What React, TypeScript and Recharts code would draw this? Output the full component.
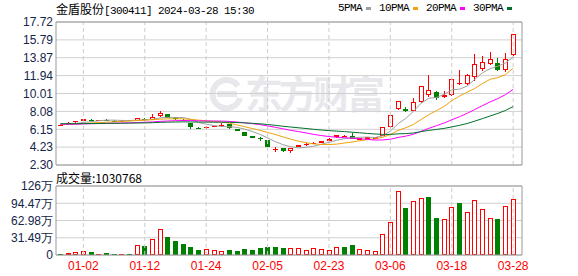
import React from 'react';
import { ComposedChart, Bar, Line, XAxis, YAxis, CartesianGrid, ReferenceLine } from 'recharts';

const stockName = '金盾股份';
const stockCode = '300411';
const quoteTime = '2024-03-28 15:30';

const dates = [
  '12-27', '12-28', '12-29', '01-02', '01-03', '01-04', '01-05', '01-08', '01-09', '01-10',
  '01-11', '01-12', '01-15', '01-16', '01-17', '01-18', '01-19', '01-22', '01-23', '01-24',
  '01-25', '01-26', '01-29', '01-30', '01-31', '02-01', '02-02', '02-05', '02-06', '02-07',
  '02-08', '02-19', '02-20', '02-21', '02-22', '02-23', '02-26', '02-27', '02-28', '02-29',
  '03-01', '03-04', '03-05', '03-06', '03-07', '03-08', '03-11', '03-12', '03-13', '03-14',
  '03-15', '03-18', '03-19', '03-20', '03-21', '03-22', '03-25', '03-26', '03-27', '03-28',
];

const opens = [
  6.58, 6.74, 7.02, 7.08, 7.2, 7.05, 7.18, 7.08, 7.05, 7.12,
  7.05, 7.3, 7.15, 7.55, 7.75, 7.35, 7.2, 6.8, 6.32, 6.25,
  6.48, 6.57, 6.7, 6.18, 5.86, 5.45, 5.2, 5.0, 4.0, 4.12,
  3.8, 4.28, 4.42, 4.62, 4.7, 4.94, 5.29, 5.42, 5.43, 4.98,
  5.1, 5.12, 5.46, 6.43, 8.37, 8.3, 8.16, 9.06, 9.88, 10.17,
  9.67, 9.82, 11.1, 11.07, 11.76, 12.66, 13.23, 13.27, 12.58, 14.14,
];
const highs = [
  6.66, 6.94, 7.06, 7.28, 7.28, 7.17, 7.3, 7.1, 7.12, 7.16,
  7.42, 7.38, 7.8, 8.12, 7.8, 7.45, 7.25, 6.85, 6.38, 6.48,
  6.54, 6.8, 6.72, 6.22, 5.9, 5.48, 5.32, 5.02, 4.27, 4.15,
  4.12, 4.48, 4.63, 4.75, 4.9, 5.18, 5.58, 5.56, 5.72, 5.18,
  5.3, 5.31, 6.4, 7.7, 9.2, 8.52, 9.5, 10.85, 12.01, 10.28,
  10.28, 11.58, 12.55, 12.12, 14.27, 14.09, 14.46, 13.81, 14.35, 16.44,
];
const lows = [
  6.56, 6.58, 6.86, 7.06, 7.08, 7.02, 7.05, 7.03, 7.03, 7.02,
  7.02, 7.0, 7.12, 7.52, 7.33, 7.1, 7.05, 6.18, 6.2, 6.2,
  6.46, 6.4, 6.2, 5.95, 5.4, 5.2, 4.92, 4.2, 3.7, 3.75,
  3.63, 4.25, 4.38, 4.55, 4.66, 4.9, 5.25, 5.32, 5.1, 4.95,
  5.08, 5.1, 5.4, 6.29, 8.27, 7.98, 8.1, 9.0, 9.6, 9.28,
  9.56, 9.78, 10.9, 10.93, 11.36, 12.47, 13.12, 12.44, 12.36, 14.1,
];
const closes = [
  6.62, 6.78, 7.05, 7.26, 7.12, 7.15, 7.1, 7.06, 7.09, 7.07,
  7.36, 7.12, 7.48, 7.9, 7.38, 7.22, 7.12, 6.45, 6.28, 6.42,
  6.52, 6.62, 6.25, 6.02, 5.43, 5.24, 5.12, 4.28, 4.05, 3.8,
  4.1, 4.45, 4.6, 4.68, 4.86, 5.14, 5.54, 5.46, 5.14, 5.16,
  5.27, 5.29, 6.37, 7.66, 9.17, 8.08, 9.1, 10.79, 10.36, 9.53,
  9.8, 11.54, 11.16, 12.01, 13.16, 13.38, 13.7, 12.55, 13.7, 16.44,
];
// 成交量, in 万
const volumes = [
  1.8, 3.1, 4.9, 8.2, 4.9, 2.5, 3.1, 1.2, 2.5, 1.2,
  17.8, 16.0, 28.6, 47.0, 32.9, 25.5, 19.6, 14.2, 8.9, 10.4,
  8.3, 6.4, 9.0, 7.1, 10.4, 9.0, 12.5, 14.5, 14.0, 12.9,
  12.3, 12.3, 8.6, 12.3, 10.4, 8.6, 14.1, 14.8, 18.4, 10.4,
  8.6, 6.8, 38.7, 60.8, 117.4, 86.7, 97.7, 104.5, 105.1, 68.2,
  65.8, 88.5, 94.1, 78.7, 100.8, 84.2, 67.6, 66.4, 89.1, 103.0768,
];
// closes before 12-27, only there so the moving averages start warm
const earlierCloses = [
  6.92, 6.88, 6.95, 6.9, 6.86, 6.84, 6.9, 6.87, 6.82, 6.8,
  6.85, 6.78, 6.74, 6.76, 6.72, 6.7, 6.74, 6.68, 6.66, 6.7,
  6.64, 6.62, 6.66, 6.6, 6.63, 6.68, 6.65, 6.7, 6.72,
];

const priceTicks = [2.3, 4.23, 6.15, 8.08, 10.01, 11.94, 13.87, 15.79, 17.72];
const volumeTicks = [0, 31.49, 62.98, 94.47, 125.96];
const labelDates = ['01-02', '01-12', '01-24', '02-05', '02-23', '03-06', '03-18', '03-28'];
const maPeriods = [5, 10, 20, 30];

const RED = '#ff0000';
const GREEN = '#008000';
const maColors = ['#a0a0a0', '#f0a30a', '#ff00ff', '#00702e'];
const CJK = '"Noto Sans CJK SC", sans-serif';
const MONO = '"Liberation Mono", monospace';
const axisText = { fontSize: 12, fill: '#14254a', fontFamily: '"Liberation Sans", Arial, sans-serif' };

const history = [...earlierCloses, ...closes];
const movingAverage = (n: number, i: number) => {
  const end = earlierCloses.length + i;
  let sum = 0;
  for (let k = end - n + 1; k <= end; k++) sum += history[k];
  return sum / n;
};

const rows = dates.map((date, i) => {
  const prev = i > 0 ? closes[i - 1] : earlierCloses[earlierCloses.length - 1];
  const row: any = {
    date,
    open: opens[i],
    high: highs[i],
    low: lows[i],
    close: closes[i],
    range: [lows[i], highs[i]],
    vol: volumes[i],
    volUp: closes[i] >= prev,
  };
  maPeriods.forEach((n) => {
    row['ma' + n] = movingAverage(n, i);
  });
  return row;
});

const Candle = (props: any) => {
  const { x, y, width, height, payload } = props;
  if (!payload) return null;
  const { open, close, high, low } = payload;
  const span = high - low;
  const toY = (v: number) => (span > 0 ? y + ((high - v) / span) * height : y);
  const px = Math.round(x + width / 2);
  const up = close >= open;
  const color = up ? RED : GREEN;
  const top = Math.round(toY(Math.max(open, close)));
  const bottom = Math.round(toY(Math.min(open, close)));
  const bodyH = bottom - top;
  return (
    <g>
      <line x1={px + 0.5} x2={px + 0.5} y1={Math.round(y)} y2={Math.round(y + height)} stroke={color} />
      {up && bodyH >= 3 ? (
        <rect x={px - 1.5} y={top + 0.5} width={4} height={bodyH - 1} fill="#fff" stroke={color} />
      ) : (
        <rect x={px - 2} y={top} width={5} height={Math.max(bodyH, 1)} fill={color} />
      )}
    </g>
  );
};

const VolumeBar = (props: any) => {
  const { x, y, width, height, payload } = props;
  if (!payload) return null;
  const px = Math.round(x + width / 2);
  const top = Math.round(y);
  const h = Math.round(y + height) - top;
  if (payload.volUp && h >= 3) {
    return <rect x={px - 1.5} y={top + 0.5} width={4} height={h - 1} fill="#fff" stroke={RED} />;
  }
  return <rect x={px - 2} y={top} width={5} height={Math.max(h, 1)} fill={payload.volUp ? RED : GREEN} />;
};

const renderDateTick = (props: any) => {
  const { x, y, payload } = props;
  if (!labelDates.includes(payload.value)) return <g />;
  return (
    <text x={x} y={y + 15} textAnchor="middle" fontSize={12} fill={RED} fontFamily={axisText.fontFamily}>
      {payload.value}
    </text>
  );
};

const formatVolume = (v: number) => (v === 0 ? '0' : v >= 100 ? Math.round(v) + '万' : v.toFixed(2) + '万');

export default function App() {
  const last = volumes[volumes.length - 1];
  return (
    <div style={{ position: 'absolute', left: 0, top: 0, width: 578, height: 276, background: '#fff', overflow: 'hidden' }}>
      {/* watermark */}
      <svg style={{ position: 'absolute', left: 208, top: 76 }} width={36} height={36}>
        <path d="M30 10 A14 14 0 1 0 32 22" fill="none" stroke="#e8e8ec" strokeWidth={6} />
        <rect x={9} y={15} width={20} height={6} fill="#e8e8ec" />
      </svg>
      <div
        style={{
          position: 'absolute', left: 245, top: 73, fontSize: 38, lineHeight: '38px', fontWeight: 700,
          letterSpacing: -4, color: '#e8e8ec', fontFamily: CJK, whiteSpace: 'nowrap',
        }}
      >
        东方财富
      </div>

      <div style={{ position: 'absolute', left: 56, top: 2, fontSize: 12, lineHeight: '13px', whiteSpace: 'nowrap', color: '#000' }}>
        <span style={{ fontFamily: CJK }}>{stockName}</span>
        <span style={{ fontFamily: MONO, fontSize: 11, letterSpacing: -0.6 }}>[{stockCode}] {quoteTime}</span>
      </div>

      <div style={{ position: 'absolute', left: 338, top: 2, display: 'flex', alignItems: 'center', gap: 8, fontFamily: MONO, fontSize: 11, letterSpacing: -0.6, lineHeight: '13px', color: '#000' }}>
        {maPeriods.map((n, k) => (
          <div key={n} style={{ display: 'flex', alignItems: 'center' }}>
            <span>{n}PMA</span>
            <span style={{ display: 'inline-block', width: 5, height: 3, marginLeft: 4, background: maColors[k] }} />
          </div>
        ))}
      </div>

      <div style={{ position: 'absolute', left: 0, top: 0 }}>
        <ComposedChart width={578} height={172} data={rows} margin={{ top: 22, right: 55, bottom: 7, left: 0 }}>
          <CartesianGrid vertical={false} stroke="#d0d0d0" />
          <XAxis dataKey="date" hide padding={{ left: 0.5, right: 5 }} />
          <YAxis
            domain={[2.3, 17.72]}
            ticks={priceTicks}
            interval={0}
            width={56}
            tickSize={0}
            tickMargin={3}
            tickLine={false}
            axisLine={{ stroke: '#999' }}
            tick={axisText}
            tickFormatter={(v: number) => v.toFixed(2)}
            allowDataOverflow
          />
          <YAxis yAxisId="frame" orientation="right" width={1} tick={false} tickLine={false} axisLine={{ stroke: '#999' }} />
          {labelDates.map((d) => (
            <ReferenceLine key={d} x={d} stroke="#cccccc" strokeDasharray="4 3" />
          ))}
          <ReferenceLine y={17.72} stroke="#999" />
          <ReferenceLine y={2.3} stroke="#999" />
          {maPeriods.map((n, k) => (
            <Line
              key={n}
              dataKey={'ma' + n}
              stroke={maColors[k]}
              strokeWidth={1}
              dot={false}
              activeDot={false}
              isAnimationActive={false}
            />
          ))}
          <Bar dataKey="range" barSize={5} shape={(p: any) => <Candle {...p} />} isAnimationActive={false} />
        </ComposedChart>
      </div>

      <div style={{ position: 'absolute', left: 56, top: 171, fontSize: 12, lineHeight: '13px', fontFamily: CJK, color: '#000', whiteSpace: 'nowrap' }}>
        成交量:{Math.round(last * 10000)}
      </div>

      <div style={{ position: 'absolute', left: 0, top: 170 }}>
        <ComposedChart width={578} height={106} data={rows} margin={{ top: 16, right: 55, bottom: 0, left: 0 }}>
          <CartesianGrid vertical={false} stroke="#d0d0d0" />
          <XAxis
            dataKey="date"
            interval={0}
            padding={{ left: 0.5, right: 5 }}
            height={21}
            tickSize={0}
            tickMargin={0}
            tickLine={false}
            axisLine={{ stroke: '#999' }}
            tick={renderDateTick}
          />
          <YAxis
            domain={[0, 125.96]}
            ticks={volumeTicks}
            interval={0}
            width={56}
            tickSize={0}
            tickMargin={3}
            tickLine={false}
            axisLine={{ stroke: '#999' }}
            tick={axisText}
            tickFormatter={formatVolume}
            allowDataOverflow
          />
          <YAxis yAxisId="frame" orientation="right" width={1} tick={false} tickLine={false} axisLine={{ stroke: '#999' }} />
          {labelDates.map((d) => (
            <ReferenceLine key={d} x={d} stroke="#cccccc" strokeDasharray="4 3" />
          ))}
          <ReferenceLine y={125.96} stroke="#999" />
          <Bar dataKey="vol" barSize={5} shape={(p: any) => <VolumeBar {...p} />} isAnimationActive={false} />
        </ComposedChart>
      </div>
    </div>
  );
}
